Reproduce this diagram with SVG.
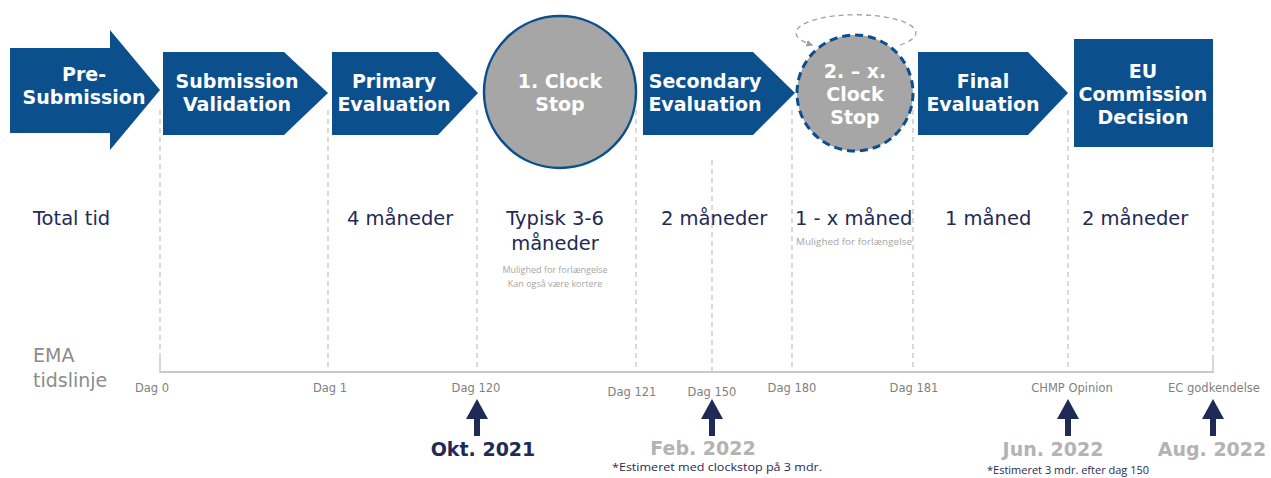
<svg xmlns="http://www.w3.org/2000/svg" width="1271" height="478" viewBox="0 0 1271 478">
<style>
.blue{fill:#0b4f8d;}
.ttl{font-family:"DejaVu Sans",Verdana,sans-serif;font-weight:bold;font-size:19px;fill:#ffffff;text-anchor:middle;}
.mid{font-family:"DejaVu Sans",Verdana,sans-serif;font-size:19.5px;fill:#1f2a56;}
.sm{font-family:"Open Sans",sans-serif;font-size:9px;fill:#a6a6a6;}
.dag{font-family:"DejaVu Sans",Verdana,sans-serif;font-size:11.5px;fill:#7f7f7f;text-anchor:middle;}
.lbl{font-family:"DejaVu Sans",Verdana,sans-serif;font-size:19px;fill:#8c8c8c;}
.date{font-family:"DejaVu Sans",Verdana,sans-serif;font-weight:bold;font-size:19px;text-anchor:middle;}
.note{font-family:"Open Sans",sans-serif;font-size:10.5px;fill:#1f2a56;}
.vl{stroke:#c6c6c6;stroke-width:1.3;stroke-dasharray:5,4;fill:none;}
.up{fill:#1f2a56;}
</style>
<defs>
<marker id="ah" viewBox="0 0 10 10" refX="8" refY="5" markerWidth="7" markerHeight="7" orient="auto" markerUnits="userSpaceOnUse">
<path d="M0,0 L10,5 L0,10 z" fill="#a0a0a0"/>
</marker>
<path id="uparrow" d="M0,0 L11,20 L3,20 L3,37 L-3,37 L-3,20 L-11,20 z"/>
</defs>
<rect width="1271" height="478" fill="#ffffff"/>

<g id="connectors">
<line class="vl" x1="160" y1="110" x2="160" y2="362"/>
<line class="vl" x1="328" y1="110" x2="328" y2="372"/>
<line class="vl" x1="477" y1="110" x2="477" y2="372"/>
<line class="vl" x1="636" y1="110" x2="636" y2="372"/>
<line class="vl" x1="712" y1="160" x2="712" y2="372"/>
<line class="vl" x1="792" y1="110" x2="792" y2="372"/>
<line class="vl" x1="913" y1="110" x2="913" y2="372"/>
<line class="vl" x1="1068" y1="110" x2="1068" y2="372"/>
<line class="vl" x1="1213" y1="148" x2="1213" y2="358"/>
<line x1="160" y1="372" x2="1213" y2="372" stroke="#c8c8c8" stroke-width="2"/>
<line x1="160" y1="358" x2="160" y2="373" stroke="#c8c8c8" stroke-width="1.5"/>
<line x1="1213" y1="358" x2="1213" y2="373" stroke="#c8c8c8" stroke-width="1.5"/>
<path d="M900,45 A60,18 0 1 0 812,45" fill="none" stroke="#a0a0a0" stroke-width="1.3" stroke-dasharray="5,4" marker-end="url(#ah)"/>
</g>

<g id="pre-submission">
<polygon class="blue" points="10,48 110,48 110,30 160,90 110,150 110,133 10,133"/>
<text class="ttl" x="84" y="81">Pre-</text>
<text class="ttl" x="84" y="104">Submission</text>
</g>
<g id="submission-validation">
<polygon class="blue" points="163,52 284,52 328,93 284,135 163,135"/>
<text class="ttl" x="237" y="88">Submission</text>
<text class="ttl" x="237" y="111">Validation</text>
</g>
<g id="primary-evaluation">
<polygon class="blue" points="332,52 438,52 478,93 438,135 332,135"/>
<text class="ttl" x="394" y="88">Primary</text>
<text class="ttl" x="394" y="111">Evaluation</text>
</g>
<g id="clock-stop-1">
<circle cx="560" cy="92" r="76" fill="#a6a6a6" stroke="#0b4f8d" stroke-width="2.5"/>
<text class="ttl" x="560" y="88">1. Clock</text>
<text class="ttl" x="560" y="111">Stop</text>
</g>
<g id="secondary-evaluation">
<polygon class="blue" points="643,52 753,52 795,93 753,135 643,135"/>
<text class="ttl" x="705" y="88">Secondary</text>
<text class="ttl" x="705" y="111">Evaluation</text>
</g>
<g id="clock-stop-2">
<circle cx="855" cy="93" r="58" fill="#a6a6a6" stroke="#0b4f8d" stroke-width="3" stroke-dasharray="8,5"/>
<text class="ttl" x="855" y="78">2. – x.</text>
<text class="ttl" x="855" y="101">Clock</text>
<text class="ttl" x="855" y="124">Stop</text>
</g>
<g id="final-evaluation">
<polygon class="blue" points="918,52 1028,52 1068,93 1028,135 918,135"/>
<text class="ttl" x="983" y="88">Final</text>
<text class="ttl" x="983" y="111">Evaluation</text>
</g>
<g id="eu-commission-decision">
<rect class="blue" x="1074" y="39" width="139" height="108"/>
<text class="ttl" x="1143" y="78">EU</text>
<text class="ttl" x="1143" y="101">Commission</text>
<text class="ttl" x="1143" y="124">Decision</text>
</g>

<g id="total-tid">
<text class="mid" x="33" y="225">Total tid</text>
<text class="mid" x="347" y="225">4 måneder</text>
<text class="mid" x="555" y="225" text-anchor="middle">Typisk 3-6</text>
<text class="mid" x="555" y="250" text-anchor="middle">måneder</text>
<text class="sm" x="555" y="273" text-anchor="middle">Mulighed for forlængelse</text>
<text class="sm" x="555" y="287" text-anchor="middle">Kan også være kortere</text>
<text class="mid" x="661" y="225">2 måneder</text>
<text class="mid" x="795" y="225">1 - x måned</text>
<text class="sm" x="796" y="245" textLength="116" lengthAdjust="spacingAndGlyphs">Mulighed for forlængelse</text>
<text class="mid" x="945" y="225">1 måned</text>
<text class="mid" x="1082" y="225">2 måneder</text>
</g>

<g id="ema-tidslinje">
<text class="lbl" x="33" y="362">EMA</text>
<text class="lbl" x="33" y="387">tidslinje</text>
<text class="dag" x="152" y="392">Dag 0</text>
<text class="dag" x="330" y="392">Dag 1</text>
<text class="dag" x="476" y="392">Dag 120</text>
<text class="dag" x="632" y="396">Dag 121</text>
<text class="dag" x="712" y="396">Dag 150</text>
<text class="dag" x="792" y="392">Dag 180</text>
<text class="dag" x="914" y="392">Dag 181</text>
<text class="dag" x="1072" y="392">CHMP Opinion</text>
<text class="dag" x="1214" y="392">EC godkendelse</text>
</g>

<g id="milestones">
<use href="#uparrow" class="up" x="477" y="399"/>
<use href="#uparrow" class="up" x="712" y="399"/>
<use href="#uparrow" class="up" x="1068" y="399"/>
<use href="#uparrow" class="up" x="1213" y="399"/>
<text class="date" x="483" y="456" fill="#1f2a56">Okt. 2021</text>
<text class="date" x="703" y="455" fill="#b3b3b3">Feb. 2022</text>
<text class="date" x="1053" y="456" fill="#b3b3b3">Jun. 2022</text>
<text class="date" x="1212" y="456" fill="#b3b3b3">Aug. 2022</text>
<text class="note" x="612" y="471" textLength="210" lengthAdjust="spacingAndGlyphs">*Estimeret med clockstop på 3 mdr.</text>
<text class="note" x="987" y="474" textLength="162" lengthAdjust="spacingAndGlyphs">*Estimeret 3 mdr. efter dag 150</text>
</g>
</svg>
